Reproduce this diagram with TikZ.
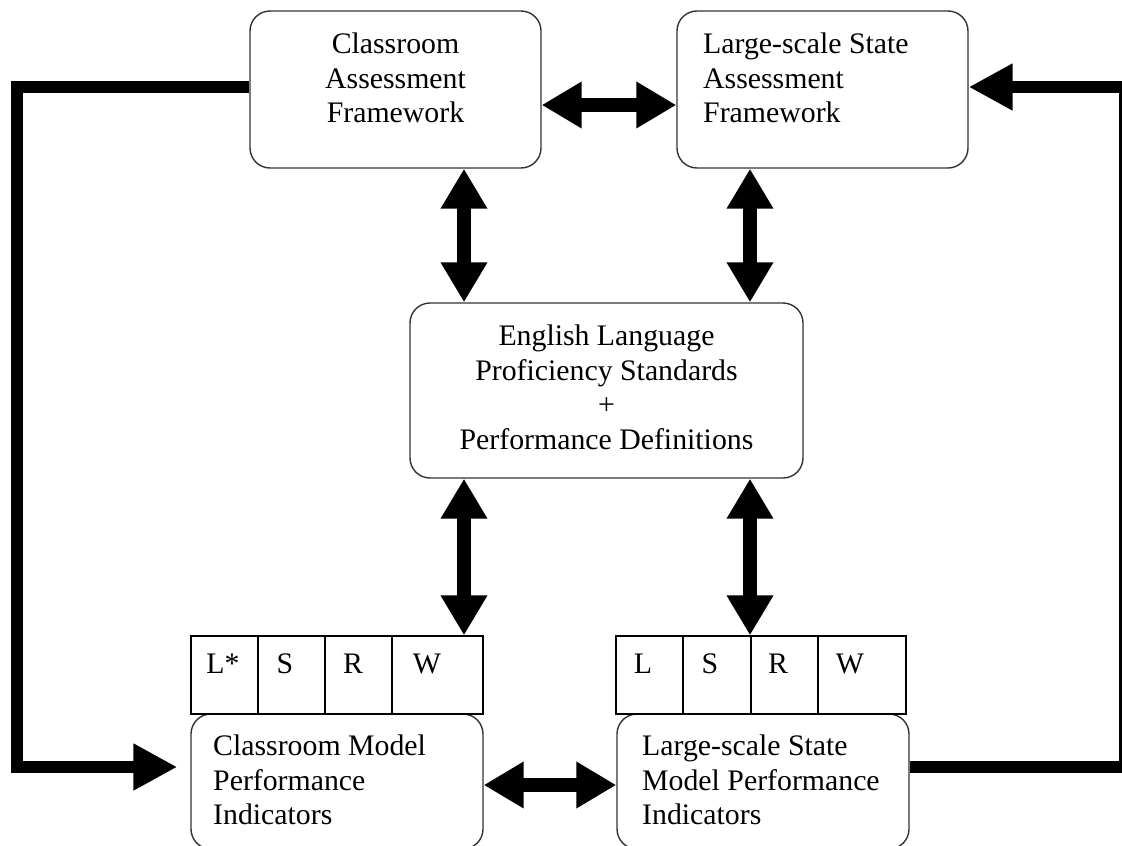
\documentclass[tikz,border=0pt]{standalone}
\usepackage{fontspec}
\setmainfont{Liberation Serif}
\usetikzlibrary{arrows.meta}

\tikzset{
  frame/.style = {draw=black!80, line width=1.4pt, rounded corners=20pt, inner sep=0pt},
  strip/.style = {draw=black, line width=1.3pt, inner sep=0pt, minimum height=78pt},
  txt/.style   = {inner sep=0pt, font=\fontsize{29.8}{34.5}\selectfont},
  dbl/.style   = {line width=14pt, {Triangle[length=40pt,width=44pt]}-{Triangle[length=40pt,width=44pt]}},
  fb/.style    = {line width=12pt, -{Triangle[length=44pt,width=44pt]}}
}

\begin{document}
\begin{tikzpicture}[x=1pt, y=-1pt]
\useasboundingbox (0,0) rectangle (1122,846);
%%
%% boxes
\node [frame, minimum width=291pt, minimum height=157pt] (caf)   at (395.5,89.5) {};
\node [frame, minimum width=291pt, minimum height=157pt] (lsaf)  at (822.5,89.5) {};
\node [frame, minimum width=393pt, minimum height=175pt] (elp)   at (606.5,390.5) {};
\node [frame, minimum width=292pt, minimum height=135pt] (cmpi)  at (337,781.5) {};
\node [frame, minimum width=292pt, minimum height=135pt] (lsmpi) at (763,781.5) {};
%%
%% L S R W strips
\node [strip, minimum width=292pt] (cstrip) at (337,675) {};
\node [strip, minimum width=290pt] (sstrip) at (761,675) {};
\foreach \x in {258,325,392} \draw [line width=1.3pt] (\x,636) -- (\x,714);
\foreach \x in {683,751,818} \draw [line width=1.3pt] (\x,636) -- (\x,714);
%%
%% texts
\node [txt, align=center, anchor=north] (caf-t) at (395.5,33) {Classroom\\Assessment\\Framework};
\node [txt, align=left, anchor=north west] (lsaf-t) at (703,33) {Large-scale State\\Assessment\\Framework};
\node [txt, align=center, anchor=north] (elp-t) at (606.5,325) {English Language\\Proficiency Standards\\+\\Performance Definitions};
\node [txt, align=left, anchor=north west] (cmpi-t) at (213,735) {Classroom Model\\Performance\\Indicators};
\node [txt, align=left, anchor=north west] (lsmpi-t) at (642,735) {Large-scale State\\Model Performance\\Indicators};
%% skills
\node [txt, anchor=base] (c-l) at (223,673) {L*};
\node [txt, anchor=base] (c-s) at (285,673) {S};
\node [txt, anchor=base] (c-r) at (353,673) {R};
\node [txt, anchor=base] (c-w) at (427,673) {W};
\node [txt, anchor=base] (s-l) at (643,673) {L};
\node [txt, anchor=base] (s-s) at (710,673) {S};
\node [txt, anchor=base] (s-r) at (778,673) {R};
\node [txt, anchor=base] (s-w) at (850,673) {W};
%%
%% helper lines for the arrows
\coordinate (lx) at (464,0);
\coordinate (rx) at (750,0);
\coordinate (ty) at (0,105);
\coordinate (by) at (0,785);
\coordinate (fy) at (0,87);
\coordinate (gy) at (0,767);
\coordinate (lc) at (17,0);
\coordinate (rc) at (1125,0);
%%
%% double arrows
\draw [dbl] (caf.east |- ty) -- (lsaf.west |- ty);
\draw [dbl] (caf.south -| lx) -- (elp.north -| lx);
\draw [dbl] (lsaf.south -| rx) -- (elp.north -| rx);
\draw [dbl] (elp.south -| lx) -- (cstrip.north -| lx);
\draw [dbl] (elp.south -| rx) -- (sstrip.north -| rx);
\draw [dbl] (cmpi.east |- by) -- (lsmpi.west |- by);
%%
%% feedback loops
\draw [fb, shorten >=13pt] (caf.west |- fy) -- (lc |- fy) -- (lc |- gy) -- (cmpi.west |- gy);
\draw [fb] (lsmpi.east |- gy) -- (rc |- gy) -- (rc |- fy) -- (lsaf.east |- fy);
%%
\end{tikzpicture}
\end{document}
